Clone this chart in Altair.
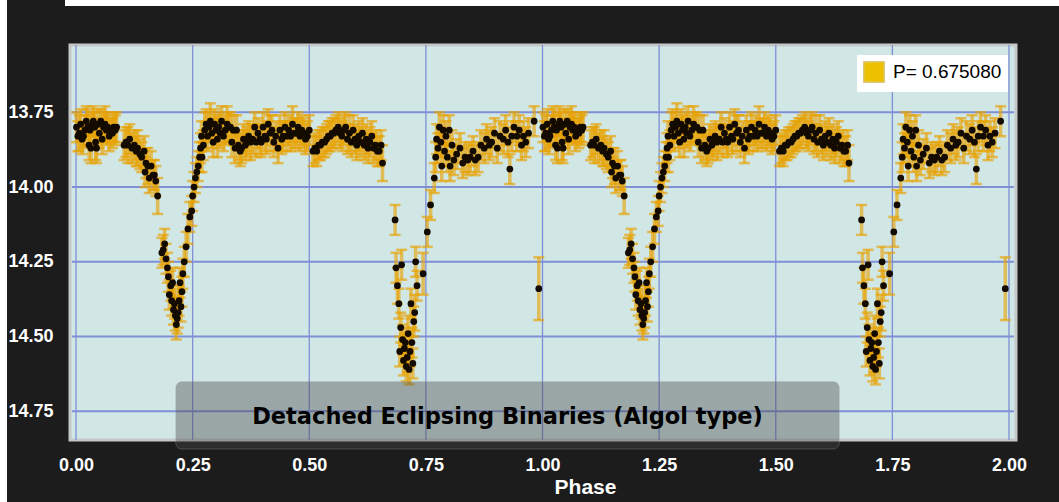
import altair as alt
import pandas as pd

# Folded photometry for one cycle: (phase, magnitude, error)
MAX_I = [
    (0.001, 13.80, 0.05), (0.004, 13.83, 0.05), (0.007, 13.82, 0.06), (0.010, 13.79, 0.05),
    (0.013, 13.84, 0.05), (0.016, 13.83, 0.04), (0.019, 13.81, 0.05), (0.022, 13.78, 0.05),
    (0.025, 13.80, 0.06), (0.028, 13.86, 0.05), (0.030, 13.81, 0.05), (0.032, 13.87, 0.05),
    (0.035, 13.79, 0.04), (0.037, 13.78, 0.05), (0.040, 13.80, 0.05), (0.042, 13.85, 0.06),
    (0.044, 13.87, 0.05), (0.047, 13.79, 0.05), (0.050, 13.82, 0.05), (0.053, 13.78, 0.04),
    (0.056, 13.84, 0.05), (0.059, 13.80, 0.05), (0.062, 13.79, 0.06), (0.065, 13.81, 0.05),
    (0.068, 13.80, 0.05), (0.071, 13.83, 0.05), (0.074, 13.81, 0.04), (0.078, 13.82, 0.05),
    (0.081, 13.80, 0.05), (0.084, 13.81, 0.05), (0.087, 13.80, 0.05),
]

INGRESS_II = [
    (0.103, 13.86, 0.05), (0.107, 13.85, 0.05), (0.111, 13.86, 0.06), (0.115, 13.84, 0.05),
    (0.120, 13.87, 0.05), (0.125, 13.86, 0.05), (0.129, 13.88, 0.05), (0.132, 13.87, 0.06),
    (0.137, 13.89, 0.05), (0.141, 13.90, 0.05), (0.146, 13.88, 0.05), (0.148, 13.95, 0.05),
    (0.150, 13.92, 0.05), (0.154, 13.93, 0.06), (0.157, 13.97, 0.05), (0.161, 13.93, 0.05),
    (0.165, 13.96, 0.05), (0.168, 13.96, 0.05), (0.171, 13.98, 0.05), (0.175, 14.03, 0.06),
]

SECONDARY = [
    (0.184, 14.22, 0.05), (0.187, 14.21, 0.05), (0.190, 14.19, 0.05), (0.193, 14.24, 0.05),
    (0.196, 14.27, 0.05), (0.198, 14.30, 0.05), (0.200, 14.36, 0.05), (0.203, 14.33, 0.05),
    (0.205, 14.38, 0.05), (0.207, 14.32, 0.05), (0.209, 14.41, 0.05), (0.211, 14.39, 0.05),
    (0.213, 14.43, 0.05), (0.215, 14.46, 0.05), (0.217, 14.44, 0.05), (0.219, 14.42, 0.05),
    (0.221, 14.38, 0.05), (0.223, 14.32, 0.05), (0.225, 14.40, 0.05), (0.227, 14.35, 0.05),
    (0.229, 14.29, 0.05), (0.232, 14.25, 0.05), (0.236, 14.20, 0.05), (0.240, 14.14, 0.05),
    (0.244, 14.10, 0.05), (0.248, 14.08, 0.05), (0.250, 14.03, 0.05), (0.253, 14.00, 0.05),
    (0.256, 13.97, 0.05), (0.259, 13.95, 0.05), (0.262, 13.93, 0.05), (0.265, 13.90, 0.05),
    (0.267, 13.87, 0.05), (0.269, 13.83, 0.05),
]

MAX_II = [
    (0.270, 13.90, 0.05), (0.273, 13.86, 0.05), (0.276, 13.81, 0.06), (0.279, 13.79, 0.05),
    (0.282, 13.83, 0.05), (0.285, 13.80, 0.05), (0.288, 13.78, 0.06), (0.291, 13.82, 0.05),
    (0.294, 13.85, 0.05), (0.297, 13.79, 0.05), (0.300, 13.81, 0.05), (0.303, 13.84, 0.06),
    (0.306, 13.80, 0.05), (0.309, 13.82, 0.05), (0.312, 13.78, 0.05), (0.316, 13.83, 0.05),
    (0.320, 13.81, 0.05), (0.324, 13.79, 0.06), (0.327, 13.80, 0.05), (0.331, 13.80, 0.05),
    (0.334, 13.85, 0.05), (0.337, 13.81, 0.05), (0.341, 13.87, 0.05), (0.344, 13.81, 0.05),
    (0.348, 13.86, 0.05), (0.352, 13.88, 0.05), (0.355, 13.87, 0.05), (0.359, 13.84, 0.05),
    (0.363, 13.86, 0.05), (0.366, 13.85, 0.05), (0.370, 13.83, 0.05), (0.374, 13.85, 0.06),
    (0.379, 13.84, 0.05), (0.383, 13.80, 0.05), (0.386, 13.85, 0.05), (0.390, 13.82, 0.05),
    (0.394, 13.84, 0.05), (0.397, 13.85, 0.05), (0.401, 13.80, 0.05), (0.405, 13.83, 0.05),
    (0.408, 13.84, 0.05), (0.412, 13.79, 0.05), (0.416, 13.82, 0.06), (0.420, 13.81, 0.05),
    (0.424, 13.85, 0.05), (0.428, 13.83, 0.05), (0.433, 13.87, 0.05), (0.437, 13.81, 0.05),
    (0.441, 13.84, 0.05), (0.444, 13.83, 0.05), (0.448, 13.80, 0.05), (0.452, 13.83, 0.05),
    (0.456, 13.81, 0.05), (0.460, 13.83, 0.05), (0.464, 13.79, 0.06), (0.468, 13.82, 0.05),
    (0.472, 13.82, 0.05), (0.476, 13.80, 0.05), (0.480, 13.83, 0.05), (0.484, 13.81, 0.05),
    (0.488, 13.82, 0.05), (0.492, 13.84, 0.05), (0.496, 13.83, 0.05), (0.500, 13.81, 0.05),
    (0.508, 13.88, 0.05), (0.512, 13.87, 0.05), (0.516, 13.88, 0.05), (0.520, 13.86, 0.05),
    (0.524, 13.86, 0.05), (0.528, 13.85, 0.05), (0.533, 13.85, 0.05), (0.537, 13.84, 0.05),
    (0.541, 13.83, 0.05), (0.545, 13.83, 0.05), (0.549, 13.82, 0.05), (0.553, 13.82, 0.05),
    (0.557, 13.81, 0.05), (0.562, 13.80, 0.05), (0.566, 13.82, 0.05), (0.570, 13.83, 0.05),
    (0.574, 13.81, 0.05), (0.578, 13.80, 0.05), (0.582, 13.84, 0.05), (0.586, 13.82, 0.06),
    (0.590, 13.85, 0.05), (0.594, 13.81, 0.05), (0.598, 13.84, 0.05), (0.602, 13.86, 0.05),
    (0.606, 13.83, 0.05), (0.610, 13.85, 0.05), (0.614, 13.82, 0.05), (0.618, 13.86, 0.05),
    (0.622, 13.84, 0.05), (0.626, 13.87, 0.05), (0.630, 13.85, 0.05), (0.634, 13.83, 0.05),
    (0.638, 13.87, 0.05), (0.642, 13.86, 0.05), (0.646, 13.88, 0.05), (0.650, 13.88, 0.05),
    (0.654, 13.86, 0.05), (0.657, 13.92, 0.06),
]

PRIMARY = [
    (0.684, 14.11, 0.05), (0.686, 14.27, 0.05), (0.689, 14.33, 0.06), (0.692, 14.39, 0.05),
    (0.694, 14.55, 0.05), (0.696, 14.47, 0.05), (0.698, 14.26, 0.05), (0.700, 14.51, 0.05),
    (0.702, 14.58, 0.05), (0.704, 14.54, 0.05), (0.706, 14.52, 0.05), (0.708, 14.60, 0.05),
    (0.710, 14.57, 0.05), (0.712, 14.49, 0.06), (0.714, 14.61, 0.05), (0.716, 14.55, 0.05),
    (0.718, 14.39, 0.05), (0.720, 14.52, 0.05), (0.722, 14.59, 0.05), (0.724, 14.45, 0.05),
    (0.726, 14.42, 0.06), (0.728, 14.25, 0.05), (0.731, 14.33, 0.05), (0.744, 14.29, 0.07),
]

EGRESS_I = [
    (0.753, 14.15, 0.05), (0.760, 14.06, 0.05), (0.768, 13.97, 0.05), (0.771, 13.90, 0.05),
    (0.773, 13.84, 0.05), (0.776, 13.87, 0.05), (0.779, 13.80, 0.05), (0.782, 13.85, 0.05),
    (0.784, 13.93, 0.05), (0.787, 13.81, 0.05), (0.790, 13.88, 0.05), (0.793, 13.83, 0.05),
    (0.796, 13.90, 0.05), (0.800, 13.81, 0.05), (0.802, 13.93, 0.05), (0.806, 13.86, 0.05),
    (0.810, 13.91, 0.05), (0.816, 13.89, 0.05), (0.823, 13.87, 0.05), (0.829, 13.92, 0.05),
    (0.834, 13.90, 0.05), (0.840, 13.91, 0.05), (0.845, 13.90, 0.05), (0.851, 13.88, 0.05),
    (0.856, 13.91, 0.05), (0.862, 13.90, 0.05), (0.868, 13.86, 0.05), (0.875, 13.87, 0.05),
    (0.880, 13.84, 0.05), (0.886, 13.86, 0.05), (0.891, 13.85, 0.05), (0.897, 13.82, 0.05),
    (0.903, 13.87, 0.05), (0.909, 13.83, 0.05), (0.916, 13.84, 0.05), (0.921, 13.81, 0.05),
    (0.926, 13.85, 0.05), (0.930, 13.94, 0.05), (0.934, 13.83, 0.05), (0.939, 13.80, 0.05),
    (0.945, 13.83, 0.05), (0.950, 13.81, 0.05), (0.955, 13.86, 0.05), (0.959, 13.83, 0.05),
    (0.964, 13.85, 0.05), (0.970, 13.82, 0.05), (0.982, 13.78, 0.05), (0.992, 14.34, 0.105),
]

PERIOD_LABEL = "P= 0.675080"
X_TICKS = [0.0, 0.25, 0.5, 0.75, 1.0, 1.25, 1.5, 1.75, 2.0]
Y_TICKS = [13.75, 14.0, 14.25, 14.5, 14.75]
X_DOMAIN = [-0.0129, 2.015]
Y_DOMAIN = [13.525, 14.846]

NOTE_TEXT = "Detached Eclipsing Binaries (Algol type)"
NOTE_PHASE = [0.214, 1.636]
NOTE_MAG = [14.651, 14.876]
NOTE_CENTER = (0.925, 14.769)

GOLD = "#e8a200"
LEGEND_GOLD = "#edc000"
GRID = "#7f8fd6"
PLOT_BG = "#d0e7e5"
DARK = "#1c1c1c"
LABEL_FONT = "Liberation Sans"
W, H = 946, 395

rows = MAX_I + INGRESS_II + SECONDARY + MAX_II + PRIMARY + EGRESS_I
cycle = pd.DataFrame(rows, columns=["phase", "mag", "err"])
# plot two cycles
data = pd.concat([cycle, cycle.assign(phase=cycle["phase"] + 1.0)], ignore_index=True)
data["lo"] = data["mag"] - data["err"]
data["hi"] = data["mag"] + data["err"]

x_scale = alt.Scale(domain=X_DOMAIN, nice=False, zero=False)
y_scale = alt.Scale(domain=Y_DOMAIN, reverse=True, nice=False, zero=False)

x_axis = alt.Axis(
    values=X_TICKS, format=".2f", grid=False,
    ticks=False, domain=False, labelFlush=False,
    labelColor="white", labelFont=LABEL_FONT, labelFontWeight="bold",
    labelFontSize=18, labelPadding=16,
    title="Phase", titleColor="white", titleFont=LABEL_FONT,
    titleFontWeight="bold", titleFontSize=21,
    titleX=515, titleY=47, titleBaseline="middle", titleAlign="center",
)
y_axis = alt.Axis(
    values=Y_TICKS, format=".2f", grid=False,
    ticks=False, domain=False, labelFlush=False,
    labelColor="white", labelFont=LABEL_FONT, labelFontWeight="bold",
    labelFontSize=18, labelPadding=17, title=None,
)

# white page margins along the top and left edges, and the plot panel
frame_df = pd.DataFrame({"k": [0]})
left_strip = alt.Chart(frame_df).mark_rect(color="white").encode(
    x=alt.value(-70), x2=alt.value(-63), y=alt.value(-45), y2=alt.value(457))
top_strip = alt.Chart(frame_df).mark_rect(color="white").encode(
    x=alt.value(-5), x2=alt.value(989), y=alt.value(-45), y2=alt.value(-39))
panel = alt.Chart(frame_df).mark_rect(
    fill=PLOT_BG, stroke="#c4c8c8", strokeWidth=3).encode(
    x=alt.value(0), x2=alt.value(W), y=alt.value(0), y2=alt.value(H))

# grid lines at the tick values
grid_x = alt.Chart(pd.DataFrame({"phase": X_TICKS})).mark_rule(
    color=GRID, strokeWidth=1.3).encode(
    x=alt.X("phase:Q", scale=x_scale, axis=x_axis),
    y=alt.value(0), y2=alt.value(H))
grid_y = alt.Chart(pd.DataFrame({"mag": Y_TICKS})).mark_rule(
    color=GRID, strokeWidth=2).encode(
    y=alt.Y("mag:Q", scale=y_scale, axis=y_axis),
    x=alt.value(2), x2=alt.value(W - 2))

base = alt.Chart(data)
bars = base.mark_rule(color=GOLD, opacity=0.62, strokeWidth=3.5).encode(
    x=alt.X("phase:Q"), y=alt.Y("lo:Q"), y2="hi:Q")
caps_lo = base.mark_tick(color=GOLD, opacity=0.65, orient="horizontal",
                         size=11, thickness=2.5).encode(
    x=alt.X("phase:Q"), y=alt.Y("lo:Q"))
caps_hi = base.mark_tick(color=GOLD, opacity=0.65, orient="horizontal",
                         size=11, thickness=2.5).encode(
    x=alt.X("phase:Q"), y=alt.Y("hi:Q"))
points = base.mark_circle(color="#140b00", opacity=1, size=46).encode(
    x=alt.X("phase:Q"), y=alt.Y("mag:Q"))

note_box_df = pd.DataFrame({
    "phase": [NOTE_PHASE[0]], "phase2": [NOTE_PHASE[1]],
    "mag": [NOTE_MAG[0]], "mag2": [NOTE_MAG[1]],
})
note_box = alt.Chart(note_box_df).mark_rect(
    fill="#484848", fillOpacity=0.4, cornerRadius=6,
    stroke="#9a9a9a", strokeOpacity=0.35, strokeWidth=1,
).encode(x="phase:Q", x2="phase2:Q", y="mag:Q", y2="mag2:Q")

note_text_df = pd.DataFrame({"phase": [NOTE_CENTER[0]], "mag": [NOTE_CENTER[1]],
                             "note": [NOTE_TEXT]})
note_text = alt.Chart(note_text_df).mark_text(
    font="DejaVu Sans", fontWeight="bold", fontSize=22.5, color="black",
    align="center", baseline="middle",
).encode(x="phase:Q", y="mag:Q", text="note:N")

legend_df = pd.DataFrame({"series": [PERIOD_LABEL]})
legend_layer = alt.Chart(legend_df).mark_square(opacity=0, size=1).encode(
    fill=alt.Fill(
        "series:N",
        scale=alt.Scale(range=[LEGEND_GOLD]),
        legend=alt.Legend(
            title=None, orient="none", legendX=787, legendY=10,
            fillColor="white", padding=6, cornerRadius=0,
            symbolType="square", symbolSize=420, symbolOpacity=1,
            symbolStrokeColor="#d8c77c", symbolStrokeWidth=1.5,
            labelFont=LABEL_FONT, labelFontSize=19, labelColor="black",
            labelOffset=8,
        ),
    )
)

chart = alt.layer(
    left_strip, top_strip, panel, grid_x, grid_y, bars, caps_lo, caps_hi, points,
    note_box, note_text, legend_layer,
).properties(
    width=W, height=H,
    autosize=alt.AutoSizeParams(type="none"),
    padding={"left": 70, "top": 45, "right": 43, "bottom": 62},
    background=DARK,
).configure_view(stroke=None)

chart.save("out.html", embed_options={"renderer": "svg", "actions": False})
